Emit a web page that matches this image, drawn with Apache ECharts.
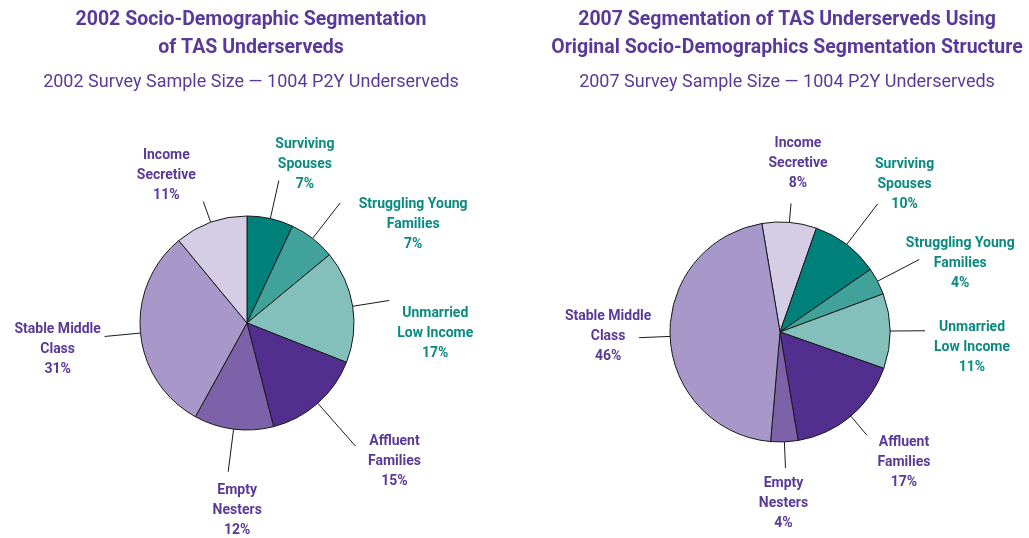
<!DOCTYPE html>
<html>
<head>
<meta charset="utf-8">
<script src="https://cdn.jsdelivr.net/npm/echarts@6/dist/echarts.min.js"></script>
<style>
  html, body { margin: 0; padding: 0; background: #fff; }
  #chart { width: 1029px; height: 538px; }
</style>
</head>
<body>
<div id="chart"></div>
<script>
// 2002 chart, clockwise from 12 o'clock
const segments2002 = ['Surviving\nSpouses', 'Struggling Young\nFamilies', 'Unmarried\nLow Income', 'Affluent\nFamilies', 'Empty\nNesters', 'Stable Middle\nClass', 'Income\nSecretive'];
const shares2002 = [7, 7, 17, 15, 12, 31, 11];

// 2007 chart, clockwise starting with Income Secretive
const segments2007 = ['Income\nSecretive', 'Surviving\nSpouses', 'Struggling Young\nFamilies', 'Unmarried\nLow Income', 'Affluent\nFamilies', 'Empty\nNesters', 'Stable Middle\nClass'];
const shares2007 = [8, 10, 4, 11, 17, 4, 46];

const titles2002 = ['2002 Socio-Demographic Segmentation\nof TAS Underserveds', '2002 Survey Sample Size \u2014 1004 P2Y Underserveds'];
const titles2007 = ['2007 Segmentation of TAS Underserveds Using\nOriginal Socio-Demographics Segmentation Structure', '2007 Survey Sample Size \u2014 1004 P2Y Underserveds'];

// leader line length per slice (px) and where the label block sits
// relative to the end of its leader line
const lineLen2002 = [39, 45, 37, 57, 43, 36, 22];
const labelShift2002 = [[26, -16], [73, 22], [46, 33], [39, 15], [9, 39], [-47, 13], [-37, -26]];
const lineLen2007 = [19, 51, 47, 35, 25, 26, 31];
const labelShift2007 = [[7, -40], [27, -19], [41, 4], [47, 17], [37, 27], [-2, 36], [-31, -1]];

const FONT = "Roboto, 'Liberation Sans', sans-serif";
const PURPLE = '#5a3a99';
const TEAL = '#0b8a80';

const sliceColors = {
  'Surviving\nSpouses': '#00807a',
  'Struggling Young\nFamilies': '#41a19b',
  'Unmarried\nLow Income': '#83c0bc',
  'Affluent\nFamilies': '#522e8e',
  'Empty\nNesters': '#7d62aa',
  'Stable Middle\nClass': '#a897c9',
  'Income\nSecretive': '#d5cde5'
};
const tealSegments = ['Surviving\nSpouses', 'Struggling Young\nFamilies', 'Unmarried\nLow Income'];

function buildData(names, values, lens) {
  return names.map((n, i) => ({
    name: n,
    value: values[i],
    itemStyle: { color: sliceColors[n] },
    label: { color: tealSegments.includes(n) ? TEAL : PURPLE },
    labelLine: { length: lens[i] }
  }));
}

// straight leader line, label block placed next to its end
function labelPlacer(shifts) {
  return function (p) {
    const pts = p.labelLinePoints;
    if (!pts) return {};
    const a = pts[0], b = pts[1];
    const s = shifts[p.dataIndex] || [0, 0];
    return {
      x: b[0] + s[0],
      y: b[1] + s[1],
      align: 'center',
      verticalAlign: 'middle',
      labelLinePoints: [a, b, b]
    };
  };
}

function pieSeries(data, center, radius, startAngle, shifts) {
  return {
    type: 'pie',
    center: center,
    radius: radius,
    startAngle: startAngle,
    clockwise: true,
    avoidLabelOverlap: false,
    silent: true,
    itemStyle: { borderColor: '#1a1a1a', borderWidth: 1 },
    label: {
      show: true,
      position: 'outside',
      formatter: '{b}\n{c}%',
      fontFamily: FONT,
      fontWeight: 'bold',
      fontSize: 14,
      lineHeight: 20,
      align: 'center'
    },
    labelLine: {
      show: true,
      length2: 0,
      lineStyle: { color: '#1a1a1a', width: 1 }
    },
    labelLayout: labelPlacer(shifts),
    data: data
  };
}

function titleText(x, lines) {
  return [
    {
      type: 'text', x: x, y: 6,
      style: {
        text: lines[0], fill: PURPLE, align: 'center', verticalAlign: 'top',
        font: 'bold 19.5px ' + FONT, lineHeight: 28
      }
    },
    {
      type: 'text', x: x, y: 72,
      style: {
        text: lines[1], fill: PURPLE, align: 'center', verticalAlign: 'top',
        font: '18px ' + FONT, lineHeight: 20
      }
    }
  ];
}

const chart = echarts.init(document.getElementById('chart'));
chart.setOption({
  backgroundColor: '#fff',
  animation: false,
  graphic: titleText(251, titles2002).concat(titleText(787, titles2007)),
  series: [
    pieSeries(buildData(segments2002, shares2002, lineLen2002), [247, 323], 107, 90, labelShift2002),
    pieSeries(buildData(segments2007, shares2007, lineLen2007), [780, 332], 110, 99.5, labelShift2007)
  ]
});
window.addEventListener('resize', () => chart.resize());
</script>
</body>
</html>
